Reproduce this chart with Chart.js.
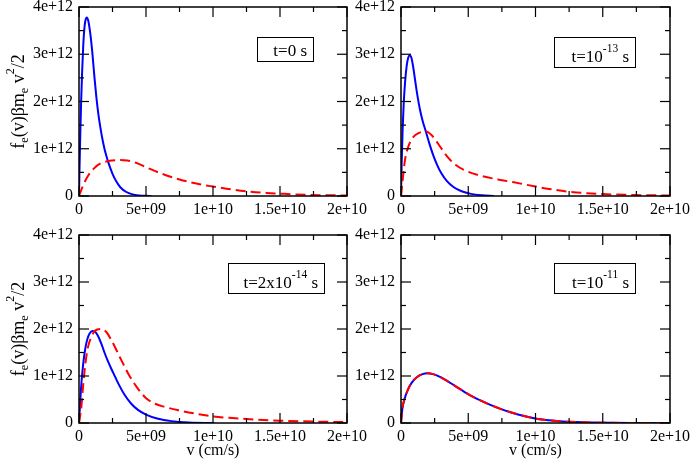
<!DOCTYPE html>
<html>
<head>
<meta charset="utf-8">
<script src="https://cdn.jsdelivr.net/npm/chart.js@4.4.1/dist/chart.umd.min.js"></script>
<style>
  html, body { margin: 0; padding: 0; background: #fff; }
  #wrap { position: relative; width: 692px; height: 463px; overflow: hidden; }
  #wrap canvas { position: absolute; }
</style>
</head>
<body>
<div id="wrap">
  <canvas id="cA"></canvas>
  <canvas id="cB"></canvas>
  <canvas id="cC"></canvas>
  <canvas id="cD"></canvas>
</div>
<script>
// v in units of 1e9 cm/s, f in units of 1e12
var xTicks = [0, 5e9, 1e10, 1.5e10, 2e10];
var yTicks = [0, 1e12, 2e12, 3e12, 4e12];

// t = 0 s
var vA_blue = [0, 0.04, 0.1, 0.16, 0.23, 0.32, 0.42, 0.5, 0.58, 0.7, 0.85, 1.0, 1.15, 1.3, 1.45, 1.6, 1.75, 1.9, 2.05, 2.2, 2.5, 2.8, 3.1, 3.5, 4.0, 4.5, 5.0, 5.4];
var fA_blue = [0, 0.6, 1.35, 2.0, 2.6, 3.2, 3.6, 3.74, 3.78, 3.70, 3.42, 3.02, 2.52, 2.08, 1.72, 1.44, 1.2, 1.0, 0.84, 0.70, 0.47, 0.30, 0.18, 0.09, 0.035, 0.012, 0.003, 0];
var vA_red = [0, 0.3, 0.7, 1.1, 1.6, 2.2, 3.0, 3.6, 4.2, 5.0, 6.0, 7.5, 9.0, 10, 11, 12.5, 14, 15, 17, 20];
var fA_red = [0, 0.22, 0.44, 0.58, 0.69, 0.74, 0.76, 0.75, 0.71, 0.61, 0.49, 0.35, 0.25, 0.20, 0.155, 0.10, 0.065, 0.05, 0.025, 0.01];

// t = 1e-13 s
var vB_blue = [0, 0.05, 0.12, 0.2, 0.3, 0.42, 0.54, 0.66, 0.78, 0.9, 1.05, 1.2, 1.4, 1.6, 1.85, 2.1, 2.4, 2.7, 3.0, 3.4, 3.9, 4.5, 5.2, 6.0, 6.9];
var fB_blue = [0, 0.7, 1.4, 1.95, 2.4, 2.75, 2.93, 2.98, 2.92, 2.74, 2.45, 2.16, 1.84, 1.6, 1.36, 1.12, 0.86, 0.65, 0.48, 0.32, 0.19, 0.10, 0.045, 0.015, 0];
var vB_red = [0, 0.125, 0.3, 0.55, 0.925, 1.3, 1.8, 2.3, 2.8, 3.425, 4.05, 4.925, 5.925, 7.4, 8.4, 10, 11, 12.5, 15, 17.5, 20];
var fB_red = [0, 0.34, 0.77, 1.05, 1.25, 1.33, 1.37, 1.28, 1.09, 0.84, 0.66, 0.52, 0.43, 0.34, 0.29, 0.20, 0.15, 0.09, 0.04, 0.02, 0.01];

// t = 2e-14 s
var vC_blue = [0, 0.08, 0.18, 0.3, 0.45, 0.62, 0.8, 1.0, 1.2, 1.4, 1.65, 1.9, 2.15, 2.4, 2.7, 2.9, 3.4, 3.9, 4.4, 5.0, 5.9, 6.9, 8.2, 10.1];
var fC_blue = [0, 0.4, 0.85, 1.22, 1.55, 1.78, 1.91, 1.96, 1.94, 1.86, 1.70, 1.50, 1.32, 1.16, 0.98, 0.86, 0.60, 0.41, 0.28, 0.18, 0.09, 0.04, 0.01, 0];
var vC_red = [0, 0.175, 0.3, 0.475, 0.675, 0.925, 1.175, 1.675, 2.05, 2.425, 3.05, 3.675, 4.3, 4.925, 5.675, 6.425, 7.425, 8.675, 10.05, 11.2, 13.4, 15, 17.5, 20];
var fC_red = [0, 0.34, 0.77, 1.26, 1.62, 1.83, 1.96, 2.0, 1.93, 1.76, 1.40, 1.05, 0.77, 0.55, 0.41, 0.34, 0.27, 0.20, 0.14, 0.11, 0.07, 0.05, 0.03, 0.02];

// t = 1e-11 s (both curves on top of each other)
var vD = [0, 0.1, 0.25, 0.5, 0.8, 1.2, 1.6, 1.95, 2.4, 2.9, 3.4, 3.9, 4.4, 4.9, 5.4, 5.9, 6.6, 7.4, 8.2, 9.0, 10.0, 11.0, 12.0, 13.0, 14.0, 15.5, 17.5, 20];
var fD = [0, 0.3, 0.5, 0.7, 0.86, 0.98, 1.04, 1.06, 1.04, 0.98, 0.9, 0.81, 0.72, 0.63, 0.55, 0.48, 0.39, 0.30, 0.225, 0.16, 0.095, 0.058, 0.034, 0.019, 0.01, 0.004, 0.001, 0];

var labelA = [['t=0 s', 'n']];
var labelB = [['t=10', 'n'], ['-13', 'sup'], [' s', 'n']];
var labelC = [['t=2x10', 'n'], ['-14', 'sup'], [' s', 'n']];
var labelD = [['t=10', 'n'], ['-11', 'sup'], [' s', 'n']];
var yTitle = [['f', 'n'], ['e', 'sub'], ['(v)\u03b2m', 'n'], ['e', 'sub'], [' v', 'n'], ['2', 'sup'], ['/2', 'n']];

var FAM = "'Liberation Serif', 'Times New Roman', serif";
Chart.defaults.font.family = FAM;
Chart.defaults.font.size = 16;
Chart.defaults.color = '#000';

function sci(v) {
    if (v === 0) return '0';
    var parts = v.toExponential().split('e');
    var d = parts[1].slice(1);
    if (d.length < 2) d = '0' + d;
    return parts[0] + 'e' + parts[1][0] + d;
}

function toXY(vs, fs) {
    return vs.map(function (v, i) { return { x: v * 1e9, y: fs[i] * 1e12 }; });
}

function drawRich(ctx, segs, x, y, align, size, small) {
    var shift = { n: 0, sub: size * 0.22, sup: -size * 0.57 };
    var widths = segs.map(function (s) {
        ctx.font = (s[1] === 'n' ? size : small) + 'px ' + FAM;
        return ctx.measureText(s[0]).width;
    });
    var total = widths.reduce(function (a, b) { return a + b; }, 0);
    var cx = align === 'right' ? x - total : (align === 'center' ? x - total / 2 : x);
    ctx.textBaseline = 'alphabetic';
    ctx.textAlign = 'left';
    segs.forEach(function (s, i) {
        ctx.font = (s[1] === 'n' ? size : small) + 'px ' + FAM;
        ctx.fillText(s[0], cx, y + shift[s[1]]);
        cx += widths[i];
    });
}

function seg(ctx, x1, y1, x2, y2) {
    ctx.beginPath();
    ctx.moveTo(x1, y1);
    ctx.lineTo(x2, y2);
    ctx.stroke();
}

var decoPlugin = {
    id: 'deco',
    afterDatasetsDraw: function (chart, args, opts) {
        var ctx = chart.ctx, a = chart.chartArea;
        var x = chart.scales.x, y = chart.scales.y;
        ctx.save();
        ctx.strokeStyle = '#000';
        ctx.lineWidth = 1.5;
        ctx.strokeRect(a.left, a.top, a.right - a.left, a.bottom - a.top);
        ctx.lineWidth = 1.2;
        xTicks.forEach(function (t, i) {
            var px = x.getPixelForValue(t);
            seg(ctx, px, a.bottom, px, a.bottom - 10);
            seg(ctx, px, a.top, px, a.top + 10);
            if (i < xTicks.length - 1) {
                var m = x.getPixelForValue((t + xTicks[i + 1]) / 2);
                seg(ctx, m, a.bottom, m, a.bottom - 5);
                seg(ctx, m, a.top, m, a.top + 5);
            }
        });
        yTicks.forEach(function (t, i) {
            var py = y.getPixelForValue(t);
            seg(ctx, a.left, py, a.left + 10, py);
            seg(ctx, a.right, py, a.right - 10, py);
            if (i < yTicks.length - 1) {
                var m = y.getPixelForValue((t + yTicks[i + 1]) / 2);
                seg(ctx, a.left, m, a.left + 5, m);
                seg(ctx, a.right, m, a.right - 5, m);
            }
        });
        ctx.restore();
    },
    afterDraw: function (chart, args, opts) {
        var ctx = chart.ctx, a = chart.chartArea;
        ctx.save();
        // time label box
        var b = opts.box;
        ctx.fillStyle = '#fff';
        ctx.fillRect(a.left + b[0], a.top + b[1], b[2] - b[0], b[3] - b[1]);
        ctx.fillStyle = '#000';
        ctx.strokeStyle = '#000';
        ctx.lineWidth = 1;
        ctx.strokeRect(a.left + b[0] + 0.5, a.top + b[1] + 0.5, b[2] - b[0], b[3] - b[1]);
        drawRich(ctx, opts.label, a.left + b[2] - 6, a.top + b[3] - 5, 'right', 17, 11.5);
        // y axis title
        if (opts.yTitle) {
            ctx.translate(opts.yTitleX, (a.top + a.bottom) / 2);
            ctx.rotate(-Math.PI / 2);
            drawRich(ctx, yTitle, 0, 0, 'center', 18, 12);
        }
        ctx.restore();
    }
};

var panels = [
    { id: 'cA', canvas: [0, 0, 372, 228], area: [79, 7, 347, 196], blue: [vA_blue, fA_blue], red: [vA_red, fA_red], label: labelA, box: [178, 30, 234, 54], yTitle: true, xTitle: false },
    { id: 'cB', canvas: [330, 0, 692, 228], area: [401, 7, 670, 196], blue: [vB_blue, fB_blue], red: [vB_red, fB_red], label: labelB, box: [153, 30, 234, 60], yTitle: false, xTitle: false },
    { id: 'cC', canvas: [0, 215, 372, 463], area: [79, 235, 347, 423], blue: [vC_blue, fC_blue], red: [vC_red, fC_red], label: labelC, box: [149, 28, 245, 58], yTitle: true, xTitle: true },
    { id: 'cD', canvas: [330, 215, 692, 463], area: [401, 235, 670, 423], blue: [vD, fD], red: [vD, fD], label: labelD, box: [153, 28, 234, 58], yTitle: false, xTitle: true }
];

panels.forEach(function (p) {
    var cv = document.getElementById(p.id);
    var cl = p.canvas[0], ct = p.canvas[1], cr = p.canvas[2], cb = p.canvas[3];
    var al = p.area[0], at = p.area[1], ar = p.area[2], ab = p.area[3];
    cv.width = cr - cl;
    cv.height = cb - ct;
    cv.style.left = cl + 'px';
    cv.style.top = ct + 'px';
    var yW = al - cl, xH = cb - ab;

    new Chart(cv, {
        type: 'scatter',
        data: {
            datasets: [
                {
                    data: toXY(p.red[0], p.red[1]),
                    borderColor: '#ff0000',
                    borderWidth: 2,
                    borderDash: [10, 5],
                    showLine: true,
                    pointRadius: 0,
                    cubicInterpolationMode: 'monotone'
                },
                {
                    data: toXY(p.blue[0], p.blue[1]),
                    borderColor: '#0000ff',
                    borderWidth: 2,
                    showLine: true,
                    pointRadius: 0,
                    cubicInterpolationMode: 'monotone'
                }
            ]
        },
        options: {
            responsive: false,
            animation: false,
            events: [],
            layout: { padding: { left: 0, top: at - ct, right: cr - ar, bottom: 0 } },
            plugins: {
                legend: { display: false },
                tooltip: { enabled: false },
                deco: { box: p.box, label: p.label, yTitle: p.yTitle, yTitleX: 24 - cl }
            },
            scales: {
                x: {
                    type: 'linear', min: 0, max: 2e10,
                    grid: { display: false, drawTicks: false },
                    border: { display: false },
                    ticks: { padding: 4, maxRotation: 0, autoSkip: false, callback: sci },
                    afterBuildTicks: function (s) { s.ticks = xTicks.map(function (v) { return { value: v }; }); },
                    afterFit: function (s) { s.height = xH; s.paddingLeft = 0; s.paddingRight = 0; },
                    title: { display: p.xTitle, text: 'v (cm/s)', padding: { top: 0, bottom: 2.4 }, font: { size: 16 } }
                },
                y: {
                    type: 'linear', min: 0, max: 4e12,
                    grid: { display: false, drawTicks: false },
                    border: { display: false },
                    ticks: { padding: 6, autoSkip: false, callback: sci },
                    afterBuildTicks: function (s) { s.ticks = yTicks.map(function (v) { return { value: v }; }); },
                    afterFit: function (s) { s.width = yW; s.paddingTop = 0; s.paddingBottom = 0; }
                }
            }
        },
        plugins: [decoPlugin]
    });
});
</script>
</body>
</html>
